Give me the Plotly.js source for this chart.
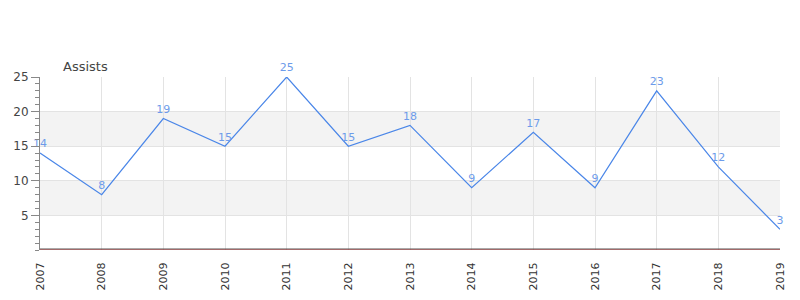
<!DOCTYPE html>
<html><head><meta charset="utf-8">
<script src="https://cdn.plot.ly/plotly-3.0.1.min.js"></script>
<style>body{margin:0;padding:0;background:#fff}#c{width:800px;height:300px}</style>
</head><body><div id="c"></div>
<script>
const years = [2007,2008,2009,2010,2011,2012,2013,2014,2015,2016,2017,2018,2019];
const assists = [14,8,19,15,25,15,18,9,17,9,23,12,3];
const yTicks = [5,10,15,20,25];
const bands = [[5,10],[15,20]];
const seriesName = 'Assists';

const shapes = bands.map(b => ({type:'rect', xref:'paper', yref:'y', x0:0, x1:1, y0:b[0], y1:b[1], fillcolor:'#f3f3f3', line:{width:0}, layer:'below'}));
shapes.push({type:'line', xref:'paper', yref:'y', x0:0, x1:1, y0:0, y1:0, line:{color:'#e00000', width:1}});
shapes.push({type:'line', xref:'paper', yref:'y', ysizemode:'pixel', yanchor:0, x0:0, x1:1, y0:1, y1:1, line:{color:'#555', width:1}});

const trace = {
  x: years, y: assists, type:'scatter', mode:'lines+markers+text',
  text: assists.map(String), textposition:'top center',
  textfont:{family:'DejaVu Sans, sans-serif', size:11, color:'#6d9bea'},
  marker:{size:3, opacity:0, color:'#4a86e8'},
  line:{color:'#4a86e8', width:1.2}, cliponaxis:false, hoverinfo:'none'
};

const layout = {
  width:800, height:300,
  margin:{l:40, r:20, t:77, b:50},
  paper_bgcolor:'#fff', plot_bgcolor:'#fff',
  showlegend:false,
  font:{family:'DejaVu Sans, sans-serif', color:'#333'},
  xaxis:{range:[2007,2019], tickvals:years, ticktext:years.map(String), tickangle:-90,
    showgrid:true, gridcolor:'#e3e3e3', zeroline:false, showline:false,
    ticks:'outside', ticklen:7, tickcolor:'rgba(0,0,0,0)',
    tickfont:{size:11, color:'#333'}, fixedrange:true},
  yaxis:{range:[0,25], tickvals:yTicks, showgrid:true, gridcolor:'#e3e3e3', zeroline:false,
    showline:true, linecolor:'#888', linewidth:1, ticks:'outside', ticklen:8, tickcolor:'#888',
    minor:{dtick:1, ticks:'outside', ticklen:4, tickcolor:'#888', showgrid:false},
    tickfont:{size:12, color:'#444'}, fixedrange:true},
  shapes: shapes,
  annotations:[{text:seriesName, xref:'paper', yref:'paper', x:0.029, y:1, yshift:1, xanchor:'left', yanchor:'bottom',
    showarrow:false, font:{size:13, color:'#444'}}]
};
Plotly.newPlot('c', [trace], layout, {staticPlot:true});
</script></body></html>
